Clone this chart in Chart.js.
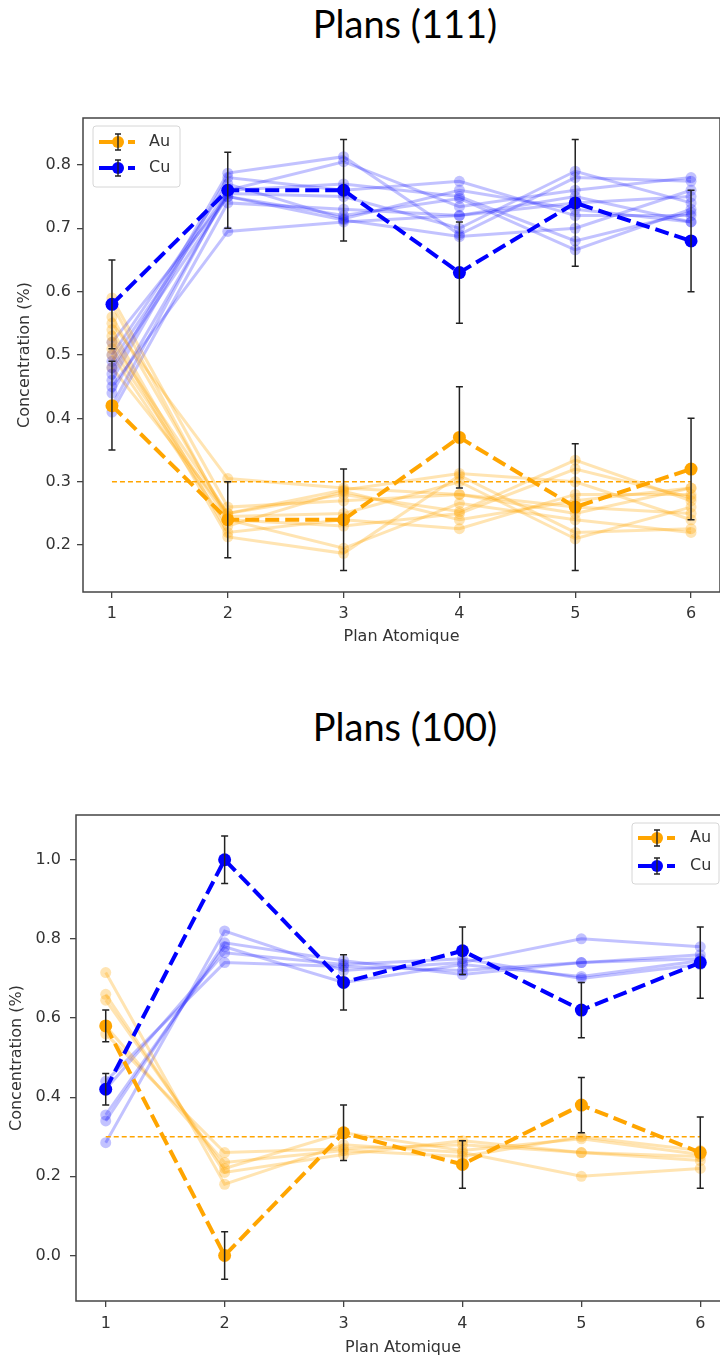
<!DOCTYPE html>
<html><head><meta charset="utf-8">
<script src="https://cdn.jsdelivr.net/npm/chart.js@4.4.1/dist/chart.umd.min.js"></script>
<style>
html,body{margin:0;padding:0;background:#fff;width:720px;height:1358px;overflow:hidden;}
#wrap{position:relative;width:720px;height:1358px;overflow:hidden;}
.title{position:absolute;font-family:Lato,'Open Sans',sans-serif;font-size:38px;line-height:38px;color:#000;white-space:nowrap;transform:translateX(-50%);}
canvas{position:absolute;left:0;}
</style></head><body>
<div id="wrap">
<div class="title" style="left:405px;top:4px">Plans (111)</div>
<div class="title" style="left:405px;top:707px">Plans (100)</div>
<canvas id="c1" width="720" height="660" style="top:0;width:720px;height:660px"></canvas>
<canvas id="c2" width="730" height="678" style="top:680px;width:730px;height:678px"></canvas>
</div>
<script>
// ---------- data ----------
const categories = [1, 2, 3, 4, 5, 6];
const seriesNames = ['Au', 'Cu'];
const yTicks111 = [0.2, 0.3, 0.4, 0.5, 0.6, 0.7, 0.8];
const yTicks100 = [0.0, 0.2, 0.4, 0.6, 0.8, 1.0];
const refLevel = 0.3;

// Plans (111) — mean series with error bars
const au111 = [0.42, 0.24, 0.24, 0.37, 0.26, 0.32];
const au111Err = [0.07, 0.06, 0.08, 0.08, 0.10, 0.08];
const cu111 = [0.58, 0.76, 0.76, 0.63, 0.74, 0.68];
const cu111Err = [0.07, 0.06, 0.08, 0.08, 0.10, 0.08];
// Plans (111) — individual runs
const au111Runs = [
  [0.55, 0.305, 0.29, 0.28, 0.25, 0.29],
  [0.53, 0.213, 0.187, 0.31, 0.22, 0.226],
  [0.58, 0.24, 0.195, 0.266, 0.24, 0.22],
  [0.52, 0.25, 0.28, 0.253, 0.334, 0.27],
  [0.50, 0.23, 0.285, 0.24, 0.27, 0.29],
  [0.56, 0.245, 0.25, 0.30, 0.21, 0.26],
  [0.48, 0.25, 0.287, 0.313, 0.30, 0.24],
  [0.54, 0.22, 0.24, 0.226, 0.28, 0.28],
  [0.59, 0.26, 0.27, 0.28, 0.26, 0.25],
  [0.51, 0.24, 0.23, 0.25, 0.32, 0.275]
];
const cu111Runs = [
  [0.45, 0.695, 0.71, 0.72, 0.75, 0.71],
  [0.47, 0.787, 0.813, 0.69, 0.78, 0.774],
  [0.42, 0.76, 0.805, 0.734, 0.76, 0.78],
  [0.48, 0.75, 0.72, 0.747, 0.666, 0.73],
  [0.50, 0.77, 0.715, 0.76, 0.73, 0.71],
  [0.44, 0.755, 0.75, 0.70, 0.79, 0.74],
  [0.52, 0.75, 0.713, 0.687, 0.70, 0.76],
  [0.46, 0.78, 0.76, 0.774, 0.72, 0.72],
  [0.41, 0.74, 0.73, 0.72, 0.74, 0.75],
  [0.49, 0.76, 0.77, 0.75, 0.68, 0.725]
];

// Plans (100) — mean series with error bars
const au100 = [0.58, 0.00, 0.31, 0.23, 0.38, 0.26];
const au100Err = [0.04, 0.06, 0.07, 0.06, 0.07, 0.09];
const cu100 = [0.42, 1.00, 0.69, 0.77, 0.62, 0.74];
const cu100Err = [0.04, 0.06, 0.07, 0.06, 0.07, 0.09];
// Plans (100) — individual runs
const au100Runs = [
  [0.715, 0.18, 0.28, 0.26, 0.20, 0.22],
  [0.66, 0.21, 0.255, 0.29, 0.26, 0.24],
  [0.645, 0.22, 0.31, 0.265, 0.295, 0.255],
  [0.58, 0.235, 0.265, 0.25, 0.30, 0.265],
  [0.56, 0.26, 0.27, 0.28, 0.26, 0.25]
];
const cu100Runs = [
  [0.285, 0.82, 0.72, 0.74, 0.80, 0.78],
  [0.34, 0.79, 0.745, 0.71, 0.74, 0.76],
  [0.355, 0.78, 0.69, 0.735, 0.705, 0.745],
  [0.42, 0.765, 0.735, 0.75, 0.70, 0.735],
  [0.44, 0.74, 0.73, 0.72, 0.74, 0.75]
];

// ---------- styles ----------
const ORANGE = '#ffa500';
const BLUE = '#0000ff';
const ORANGE_FAINT = 'rgba(255,165,0,0.3)';
const BLUE_FAINT = 'rgba(0,0,255,0.24)';
const TEXT = '#333333';
const FONT = "'DejaVu Sans', sans-serif";

function pts(arr) { return categories.map((c, i) => ({ x: c, y: arr[i] })); }

function mainSet(label, values, color) {
  return { label, data: pts(values), borderColor: color, backgroundColor: color,
    borderWidth: 4, borderDash: [14, 6], pointRadius: 6.5, pointHoverRadius: 6.5,
    pointBackgroundColor: color, pointBorderWidth: 0, tension: 0 };
}
function faintSet(values, color) {
  return { label: '', data: pts(values), borderColor: color, backgroundColor: color,
    borderWidth: 3, pointRadius: 5.5, pointHoverRadius: 5.5,
    pointBackgroundColor: color, pointBorderWidth: 0, tension: 0 };
}
function refSet() {
  return { label: '', data: [{ x: categories[0], y: refLevel }, { x: categories[categories.length - 1], y: refLevel }],
    borderColor: ORANGE, borderWidth: 1.4, borderDash: [5, 3], pointRadius: 0, tension: 0 };
}

// ---------- plugins ----------
const errorBarPlugin = {
  id: 'errorBars',
  afterDatasetsDraw(chart, args, o) {
    const { ctx, scales: { x, y } } = chart;
    ctx.save();
    ctx.strokeStyle = o.color; ctx.lineWidth = o.width; ctx.setLineDash([]);
    o.sets.forEach(s => {
      s.values.forEach((v, i) => {
        const px = x.getPixelForValue(categories[i]);
        const top = y.getPixelForValue(v + s.errors[i]);
        const bot = y.getPixelForValue(v - s.errors[i]);
        ctx.beginPath();
        ctx.moveTo(px, top); ctx.lineTo(px, bot);
        ctx.moveTo(px - o.cap, top); ctx.lineTo(px + o.cap, top);
        ctx.moveTo(px - o.cap, bot); ctx.lineTo(px + o.cap, bot);
        ctx.stroke();
      });
    });
    const a = chart.chartArea;
    ctx.strokeStyle = '#444'; ctx.lineWidth = 1.5;
    ctx.strokeRect(a.left, a.top, a.right - a.left, a.bottom - a.top);
    ctx.restore();
  }
};

const legendPlugin = {
  id: 'errLegend',
  afterDraw(chart, args, o) {
    const ctx = chart.ctx;
    ctx.save();
    const r = 3;
    ctx.beginPath();
    ctx.moveTo(o.x + r, o.y);
    ctx.arcTo(o.x + o.w, o.y, o.x + o.w, o.y + o.h, r);
    ctx.arcTo(o.x + o.w, o.y + o.h, o.x, o.y + o.h, r);
    ctx.arcTo(o.x, o.y + o.h, o.x, o.y, r);
    ctx.arcTo(o.x, o.y, o.x + o.w, o.y, r);
    ctx.closePath();
    ctx.fillStyle = 'rgba(255,255,255,0.85)'; ctx.fill();
    ctx.strokeStyle = '#d6d6d6'; ctx.lineWidth = 1; ctx.stroke();
    o.items.forEach((it, k) => {
      const yy = o.y + o.row0 + k * o.rowGap;
      ctx.setLineDash(o.dash);
      ctx.strokeStyle = it.color; ctx.lineWidth = 4;
      ctx.beginPath(); ctx.moveTo(o.x + o.hx0, yy); ctx.lineTo(o.x + o.hx1, yy); ctx.stroke();
      ctx.setLineDash([]);
      ctx.fillStyle = it.color;
      ctx.beginPath(); ctx.arc(o.x + o.mx, yy, 6, 0, Math.PI * 2); ctx.fill();
      const mx = o.x + o.mx;
      ctx.strokeStyle = '#222'; ctx.lineWidth = 1.4;
      ctx.beginPath();
      ctx.moveTo(mx, yy - 8); ctx.lineTo(mx, yy + 8);
      ctx.moveTo(mx - 3, yy - 8); ctx.lineTo(mx + 3, yy - 8);
      ctx.moveTo(mx - 3, yy + 8); ctx.lineTo(mx + 3, yy + 8);
      ctx.stroke();
      ctx.fillStyle = TEXT; ctx.font = '16px ' + FONT; ctx.textBaseline = 'middle'; ctx.textAlign = 'left';
      ctx.fillText(it.label, o.x + o.tx, yy);
    });
    ctx.restore();
  }
};

function buildChart(canvasId, cfg) {
  const datasets = [
    mainSet(seriesNames[0], cfg.au, ORANGE),
    mainSet(seriesNames[1], cfg.cu, BLUE),
    refSet()
  ];
  cfg.cuRuns.forEach((r, i) => {
    datasets.push(faintSet(cfg.auRuns[i], ORANGE_FAINT));
    datasets.push(faintSet(r, BLUE_FAINT));
  });
  return new Chart(document.getElementById(canvasId), {
    type: 'line',
    data: { datasets },
    plugins: [errorBarPlugin, legendPlugin],
    options: {
      responsive: false, animation: false, devicePixelRatio: 1,
      layout: { autoPadding: false, padding: { top: cfg.padTop, left: 0, right: 0, bottom: 0 } },
      plugins: {
        legend: { display: false }, tooltip: { enabled: false }, title: { display: false },
        errorBars: { color: '#222', width: 1.5, cap: 3.5,
          sets: [{ values: cfg.au, errors: cfg.auErr }, { values: cfg.cu, errors: cfg.cuErr }] },
        errLegend: Object.assign({ items: [{ label: seriesNames[0], color: ORANGE }, { label: seriesNames[1], color: BLUE }] }, cfg.legend)
      },
      scales: {
        x: {
          type: 'linear', min: 0.75, max: 6.25,
          afterBuildTicks: a => { a.ticks = categories.map(v => ({ value: v })); },
          afterFit: a => { a.height = cfg.xAxisH; a.paddingLeft = 0; a.paddingRight = 0; },
          ticks: { font: { family: FONT, size: 16 }, color: TEXT, padding: cfg.xTickPad, maxRotation: 0, autoSkip: false,
            callback: v => String(v) },
          grid: { display: true, drawOnChartArea: false, drawTicks: true, tickLength: 6, color: '#444', lineWidth: 1.3 },
          border: { display: false },
          title: { display: true, text: 'Plan Atomique', font: { family: FONT, size: 16 }, color: TEXT,
            padding: { top: 0, bottom: cfg.xTitlePad } }
        },
        y: {
          type: 'linear', min: cfg.yMin, max: cfg.yMax,
          afterBuildTicks: a => { a.ticks = cfg.yTicks.map(v => ({ value: v })); },
          afterFit: a => { a.width = cfg.yAxisW; a.paddingTop = 0; a.paddingBottom = 0; },
          ticks: { font: { family: FONT, size: 16 }, color: TEXT, padding: cfg.yTickPad, autoSkip: false,
            callback: v => Number(v).toFixed(1) },
          grid: { display: true, drawOnChartArea: false, drawTicks: true, tickLength: 6, color: '#444', lineWidth: 1.3 },
          border: { display: false },
          title: { display: true, text: 'Concentration (%)', font: { family: FONT, size: 16 }, color: TEXT,
            padding: { top: cfg.yTitlePad, bottom: 0 } }
        }
      }
    }
  });
}

buildChart('c1', {
  au: au111, auErr: au111Err, cu: cu111, cuErr: cu111Err, auRuns: au111Runs, cuRuns: cu111Runs,
  yTicks: yTicks111, yMin: 0.126, yMax: 0.874,
  padTop: 118, xAxisH: 68, yAxisW: 83, xTickPad: 6, xTitlePad: 14, yTickPad: 6, yTitlePad: 15,
  legend: { x: 93, y: 126, w: 87, h: 61, row0: 16, rowGap: 26, hx0: 6, mx: 25, hx1: 42, tx: 56, dash: [22, 7] }
});
buildChart('c2', {
  au: au100, auErr: au100Err, cu: cu100, cuErr: cu100Err, auRuns: au100Runs, cuRuns: cu100Runs,
  yTicks: yTicks100, yMin: -0.115, yMax: 1.113,
  padTop: 135, xAxisH: 57, yAxisW: 76, xTickPad: 7, xTitlePad: 1, yTickPad: 9, yTitlePad: 7,
  legend: { x: 632, y: 143, w: 87, h: 61, row0: 15, rowGap: 28, hx0: 6, mx: 25, hx1: 43, tx: 58, dash: [22, 7] }
});
</script>
</body></html>
